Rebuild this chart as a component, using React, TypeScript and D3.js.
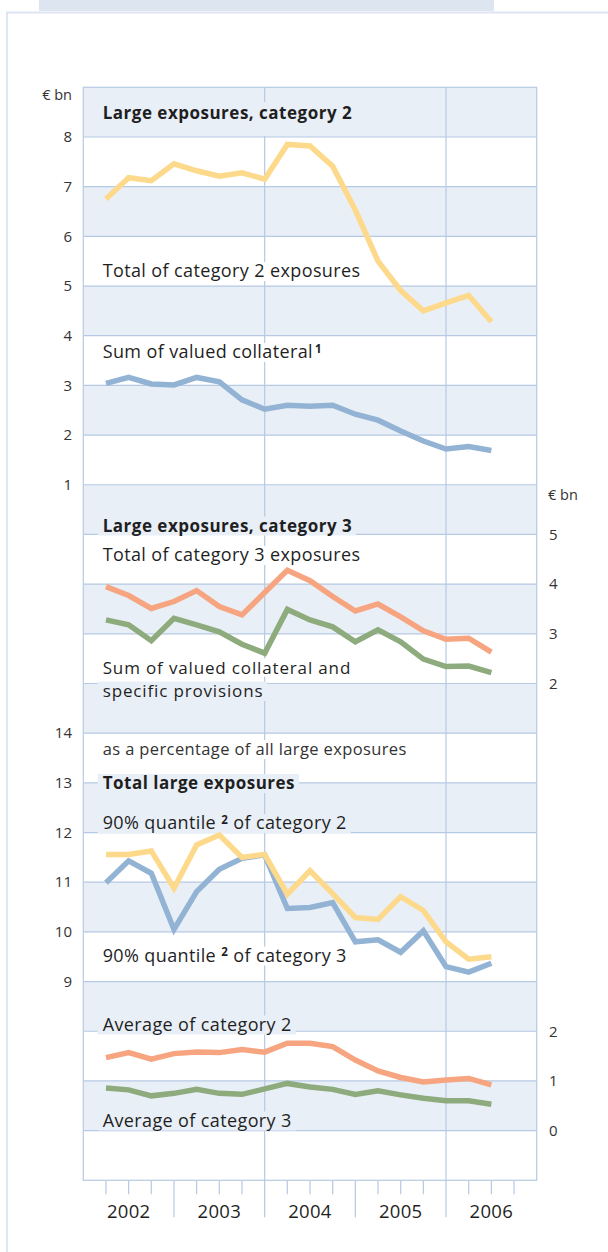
import { useRef, useEffect } from "react";
import * as d3 from "d3";

// quarter-end observations, 2002 Q1 .. 2006 Q2
const quarters = [
  "2002Q1", "2002Q2", "2002Q3", "2002Q4",
  "2003Q1", "2003Q2", "2003Q3", "2003Q4",
  "2004Q1", "2004Q2", "2004Q3", "2004Q4",
  "2005Q1", "2005Q2", "2005Q3", "2005Q4",
  "2006Q1", "2006Q2",
];
const years = ["2002", "2003", "2004", "2005", "2006"];

// € bn, left axis (top panel)
const totalCat2 = [6.75, 7.18, 7.12, 7.46, 7.32, 7.21, 7.28, 7.15, 7.85, 7.82, 7.41, 6.53, 5.5, 4.91, 4.5, 4.66, 4.81, 4.28];
const collateralCat2 = [3.04, 3.16, 3.03, 3.01, 3.16, 3.07, 2.71, 2.52, 2.6, 2.58, 2.6, 2.42, 2.3, 2.08, 1.88, 1.72, 1.77, 1.69];
// € bn, right axis (middle panel)
const totalCat3 = [3.95, 3.77, 3.51, 3.65, 3.87, 3.55, 3.38, 3.83, 4.28, 4.07, 3.75, 3.46, 3.6, 3.34, 3.06, 2.89, 2.91, 2.63];
const collateralCat3 = [3.28, 3.18, 2.86, 3.31, 3.18, 3.04, 2.79, 2.61, 3.49, 3.28, 3.14, 2.84, 3.08, 2.84, 2.49, 2.34, 2.35, 2.22];
// % of all large exposures
const q90Cat2 = [11.56, 11.56, 11.63, 10.88, 11.75, 11.95, 11.5, 11.56, 10.76, 11.23, 10.77, 10.29, 10.25, 10.71, 10.43, 9.8, 9.45, 9.5];
const q90Cat3 = [10.99, 11.43, 11.18, 10.05, 10.81, 11.26, 11.48, 11.55, 10.47, 10.49, 10.59, 9.8, 9.84, 9.59, 10.02, 9.3, 9.19, 9.37];
const avgCat2 = [1.47, 1.57, 1.44, 1.55, 1.58, 1.57, 1.63, 1.58, 1.76, 1.76, 1.69, 1.42, 1.2, 1.07, 0.98, 1.02, 1.05, 0.92];
const avgCat3 = [0.86, 0.82, 0.7, 0.75, 0.83, 0.75, 0.73, 0.84, 0.95, 0.88, 0.83, 0.73, 0.8, 0.72, 0.65, 0.6, 0.6, 0.53];

const ticksTopLeft = [1, 2, 3, 4, 5, 6, 7, 8];
const ticksMidRight = [2, 3, 4, 5];
const ticksQuantLeft = [9, 10, 11, 12, 13, 14];
const ticksAvgRight = [0, 1, 2];

const FONT = "'Open Sans', 'Noto Sans', sans-serif";
const BAND = "#e9eff7";
const GRID = "#b6c9e4";
const TEXT = "#1f1f1f";
const YELLOW = "#fdd98b";
const BLUE = "#92b3d3";
const ORANGE = "#f6a580";
const GREEN = "#8dab7c";

export default function App() {
  const svgRef = useRef<SVGSVGElement>(null);

  useEffect(() => {
    if (!svgRef.current) return;
    const svg = d3.select(svgRef.current);
    svg.selectAll("*").remove();

    const left = 83.3, right = 536.7, top = 87.3, bottom = 1180.3;
    const nRows = 22;
    const rowH = (bottom - top) / nRows;
    const rowY = (r: number) => top + r * rowH;

    const x = d3.scaleLinear().domain([0, 20]).range([left, right]);
    const xq = (i: number) => x(i + 1);

    const yTop = d3.scaleLinear().domain([9, 1]).range([rowY(0), rowY(8)]);
    const yMid = d3.scaleLinear().domain([5, 2]).range([rowY(9), rowY(12)]);
    const yQuant = d3.scaleLinear().domain([14, 9]).range([rowY(13), rowY(18)]);
    const yAvg = d3.scaleLinear().domain([2, 0]).range([rowY(19), rowY(21)]);

    // page frame
    svg.append("rect").attr("x", 39).attr("y", 0).attr("width", 455).attr("height", 11).attr("fill", "#dce5f0");
    svg.append("path").attr("d", "M7,1252V12.5H608").attr("fill", "none").attr("stroke", "#dde6f1").attr("stroke-width", 2);

    // bands
    const g = svg.append("g");
    d3.range(0, nRows, 2).forEach((r) => {
      g.append("rect").attr("x", left).attr("y", rowY(r)).attr("width", right - left).attr("height", rowH).attr("fill", BAND);
    });
    // horizontal grid
    d3.range(1, nRows).forEach((r) => {
      g.append("line").attr("x1", left).attr("x2", right).attr("y1", rowY(r)).attr("y2", rowY(r))
        .attr("stroke", GRID).attr("stroke-width", 1.2);
    });
    // vertical grid lines at start of 2004 and 2006
    [8, 16].forEach((q) => {
      g.append("line").attr("x1", x(q)).attr("x2", x(q)).attr("y1", top).attr("y2", bottom + 37)
        .attr("stroke", GRID).attr("stroke-width", 1.2);
    });
    // x ticks
    d3.range(1, 20).forEach((q) => {
      if (q === 8 || q === 16) return;
      const long = q % 4 === 0;
      g.append("line").attr("x1", x(q)).attr("x2", x(q)).attr("y1", bottom).attr("y2", bottom + (long ? 37 : 14))
        .attr("stroke", GRID).attr("stroke-width", 1.2);
    });
    // border
    g.append("rect").attr("x", left).attr("y", top).attr("width", right - left).attr("height", bottom - top)
      .attr("fill", "none").attr("stroke", GRID).attr("stroke-width", 1.2);

    // year labels
    years.forEach((yr, i) => {
      g.append("text").attr("x", x(i * 4 + 2)).attr("y", bottom + 38).attr("text-anchor", "middle")
        .attr("font-family", FONT).attr("font-size", 18.5).attr("letter-spacing", 0.3).attr("fill", TEXT).text(yr);
    });

    // axis labels
    const axisText = (xx: number, yy: number, s: string, anchor: string) =>
      g.append("text").attr("x", xx).attr("y", yy).attr("dy", "0.35em").attr("text-anchor", anchor)
        .attr("font-family", FONT).attr("font-size", 15).attr("fill", "#333").text(s);
    ticksTopLeft.forEach((v) => axisText(72, yTop(v), String(v), "end"));
    ticksQuantLeft.forEach((v) => axisText(72, yQuant(v), String(v), "end"));
    ticksMidRight.forEach((v) => axisText(549, yMid(v), String(v), "start"));
    ticksAvgRight.forEach((v) => axisText(549, yAvg(v), String(v), "start"));
    axisText(72, 94.5, "€ bn", "end").attr("font-size", 14.5);
    axisText(548, rowY(8) + 10.5, "€ bn", "start").attr("font-size", 14.5);

    // annotation labels
    type Lab = {
      parts: [string, string?, string?]; y: number; bg: string; bold?: boolean;
      size?: number; spacing?: number; color?: string; padTop?: number; padBottom?: number;
    };
    const labels: Lab[] = [
      { parts: ["Large exposures, category 2"], y: 119, bg: BAND, bold: true, padTop: 17, padBottom: 17 },
      { parts: ["Total of category 2 exposures"], y: 277, bg: "#fff" },
      { parts: ["Sum of valued collateral", "1"], y: 358, bg: "#fff" },
      { parts: ["Large exposures, category 3"], y: 531.5, bg: BAND, bold: true },
      { parts: ["Total of category 3 exposures"], y: 561, bg: "#fff" },
      { parts: ["Sum of valued collateral and"], y: 673.5, bg: "#fff", size: 17, spacing: 0.85, padBottom: 3 },
      { parts: ["specific provisions"], y: 697, bg: BAND, size: 17, spacing: 0.85, padTop: 15.5 },
      { parts: ["as a percentage of all large exposures"], y: 755, bg: "#fff", size: 16.5, color: "#333" },
      { parts: ["Total large exposures"], y: 789, bg: BAND, bold: true },
      { parts: ["90% quantile ", "2", " of category 2"], y: 829, bg: BAND },
      { parts: ["90% quantile ", "2", " of category 3"], y: 961.5, bg: "#fff" },
      { parts: ["Average of category 2"], y: 1030.5, bg: BAND },
      { parts: ["Average of category 3"], y: 1126.5, bg: BAND },
    ];
    const lx = 102.7;
    labels.forEach((lab) => {
      const size = lab.size ?? (lab.bold ? 17 : 18);
      const spacing = lab.spacing ?? (lab.bold ? 0.5 : 0.38);
      const bgRect = g.append("rect").attr("fill", lab.bg);
      const t = g.append("text").attr("x", lx).attr("y", lab.y).attr("font-family", FONT)
        .attr("font-size", size).attr("font-weight", lab.bold ? 700 : 400)
        .attr("letter-spacing", spacing).attr("fill", lab.color ?? TEXT);
      t.append("tspan").text(lab.parts[0]);
      if (lab.parts[1]) {
        t.append("tspan").attr("dx", lab.parts[2] ? 0 : 2).attr("dy", -5.5).attr("font-size", 11.5)
          .attr("font-weight", 700).text(lab.parts[1]);
        if (lab.parts[2]) t.append("tspan").attr("dy", 5.5).text(lab.parts[2]);
      }
      const w = (t.node() as SVGTextElement).getComputedTextLength();
      const padTop = lab.padTop ?? 15;
      const padBottom = lab.padBottom ?? 4;
      bgRect.attr("x", lx - 5).attr("y", lab.y - padTop).attr("width", w + 9).attr("height", padTop + padBottom);
    });

    // data lines
    const lines: { data: number[]; y: d3.ScaleLinear<number, number>; color: string }[] = [
      { data: totalCat2, y: yTop, color: YELLOW },
      { data: collateralCat2, y: yTop, color: BLUE },
      { data: totalCat3, y: yMid, color: ORANGE },
      { data: collateralCat3, y: yMid, color: GREEN },
      { data: q90Cat3, y: yQuant, color: BLUE },
      { data: q90Cat2, y: yQuant, color: YELLOW },
      { data: avgCat2, y: yAvg, color: ORANGE },
      { data: avgCat3, y: yAvg, color: GREEN },
    ];
    lines.forEach((ln) => {
      const gen = d3.line<number>().x((_, i) => xq(i)).y((d) => ln.y(d));
      g.append("path").attr("d", gen(ln.data)).attr("fill", "none").attr("stroke", ln.color)
        .attr("stroke-width", 5.5).attr("stroke-linejoin", "miter");
    });
  }, []);

  return (
    <svg ref={svgRef} width={608} height={1252}
      style={{ position: "absolute", left: 0, top: 0, background: "#fff" }} />
  );
}
